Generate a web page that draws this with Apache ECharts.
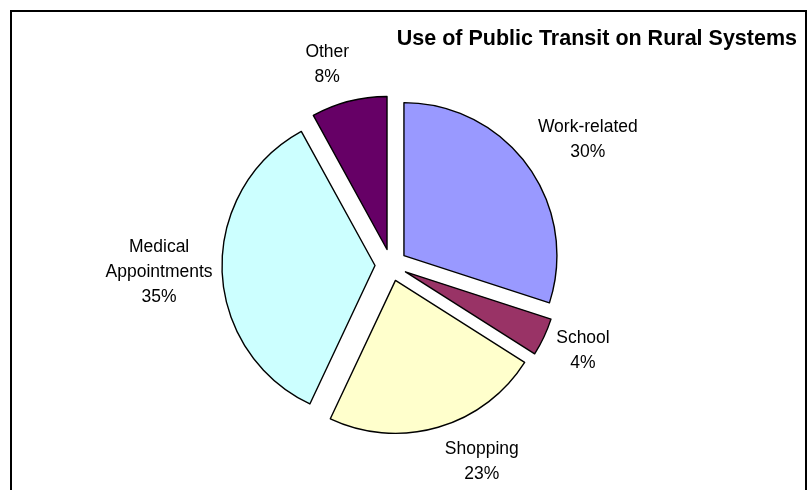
<!DOCTYPE html>
<html>
<head>
<meta charset="utf-8">
<script src="https://cdn.jsdelivr.net/npm/echarts@6/dist/echarts.min.js"></script>
<style>
  html, body { margin: 0; padding: 0; background: #fff; }
  #chart { width: 812px; height: 490px; }
</style>
</head>
<body>
<div id="chart"></div>
<script>
// Trip purposes on rural public transit (share of trips, %)
const categories = ['Work-related', 'School', 'Shopping', 'Medical Appointments', 'Other'];
const shares = [30, 4, 23, 35, 8];
const sliceColors = ['#9999FF', '#993366', '#FFFFCC', '#CCFFFF', '#660066'];

// Pie geometry
const CX = 391, CY = 265, R = 153, EXPLODE = 16, LABEL_RADIUS = 200;
// per-label shifts from the point on each slice's bisector
const labelNudge = [[35, -7.5], [11, 1], [35, 5], [-32, 1], [-14, -6.5]];

const FONT = 'Liberation Sans, Arial, sans-serif';
const total = shares.reduce((a, b) => a + b, 0);
// bisector angle of each slice, measured clockwise from 12 o'clock
const midAngles = [];
let acc = 0;
shares.forEach(v => { midAngles.push((acc + v / 2) / total * 2 * Math.PI); acc += v; });

const chart = echarts.init(document.getElementById('chart'), null, { renderer: 'canvas' });

chart.setOption({
  backgroundColor: '#ffffff',
  animation: false,
  title: {
    text: 'Use of Public Transit on Rural Systems',
    right: 15,
    top: 28,
    padding: 0,
    textStyle: { fontFamily: FONT, fontWeight: 'bold', fontSize: 21.5, color: '#000' }
  },
  graphic: [{
    type: 'rect',
    silent: true,
    shape: { x: 11, y: 11, width: 795, height: 520 },
    style: { fill: 'none', stroke: '#000', lineWidth: 2 }
  }],
  series: [{
    type: 'pie',
    center: [CX, CY],
    radius: [0, R],
    startAngle: 90,
    clockwise: true,
    selectedMode: 'multiple',
    selectedOffset: EXPLODE,
    emphasis: { disabled: true },
    itemStyle: { borderColor: '#000', borderWidth: 1.4 },
    label: { show: false },
    labelLine: { show: false },
    data: categories.map((name, i) => ({
      name: name,
      value: shares[i],
      selected: true,
      itemStyle: { color: sliceColors[i] }
    }))
  }, {
    // category / percentage labels placed outside each slice
    type: 'custom',
    coordinateSystem: 'none',
    silent: true,
    data: shares.map((v, i) => [i, v]),
    renderItem: function (params, api) {
      const i = params.dataIndex;
      const a = midAngles[i];
      const pct = Math.round(api.value(1) / total * 100);
      return {
        type: 'text',
        x: CX + Math.sin(a) * LABEL_RADIUS + labelNudge[i][0],
        y: CY - Math.cos(a) * LABEL_RADIUS + labelNudge[i][1],
        style: {
          text: categories[i].replace(' ', '\n') + '\n' + pct + '%',
          fontFamily: FONT,
          fontSize: 17.5,
          lineHeight: 25,
          fill: '#000',
          align: 'center',
          verticalAlign: 'middle'
        }
      };
    }
  }]
});
</script>
</body>
</html>
